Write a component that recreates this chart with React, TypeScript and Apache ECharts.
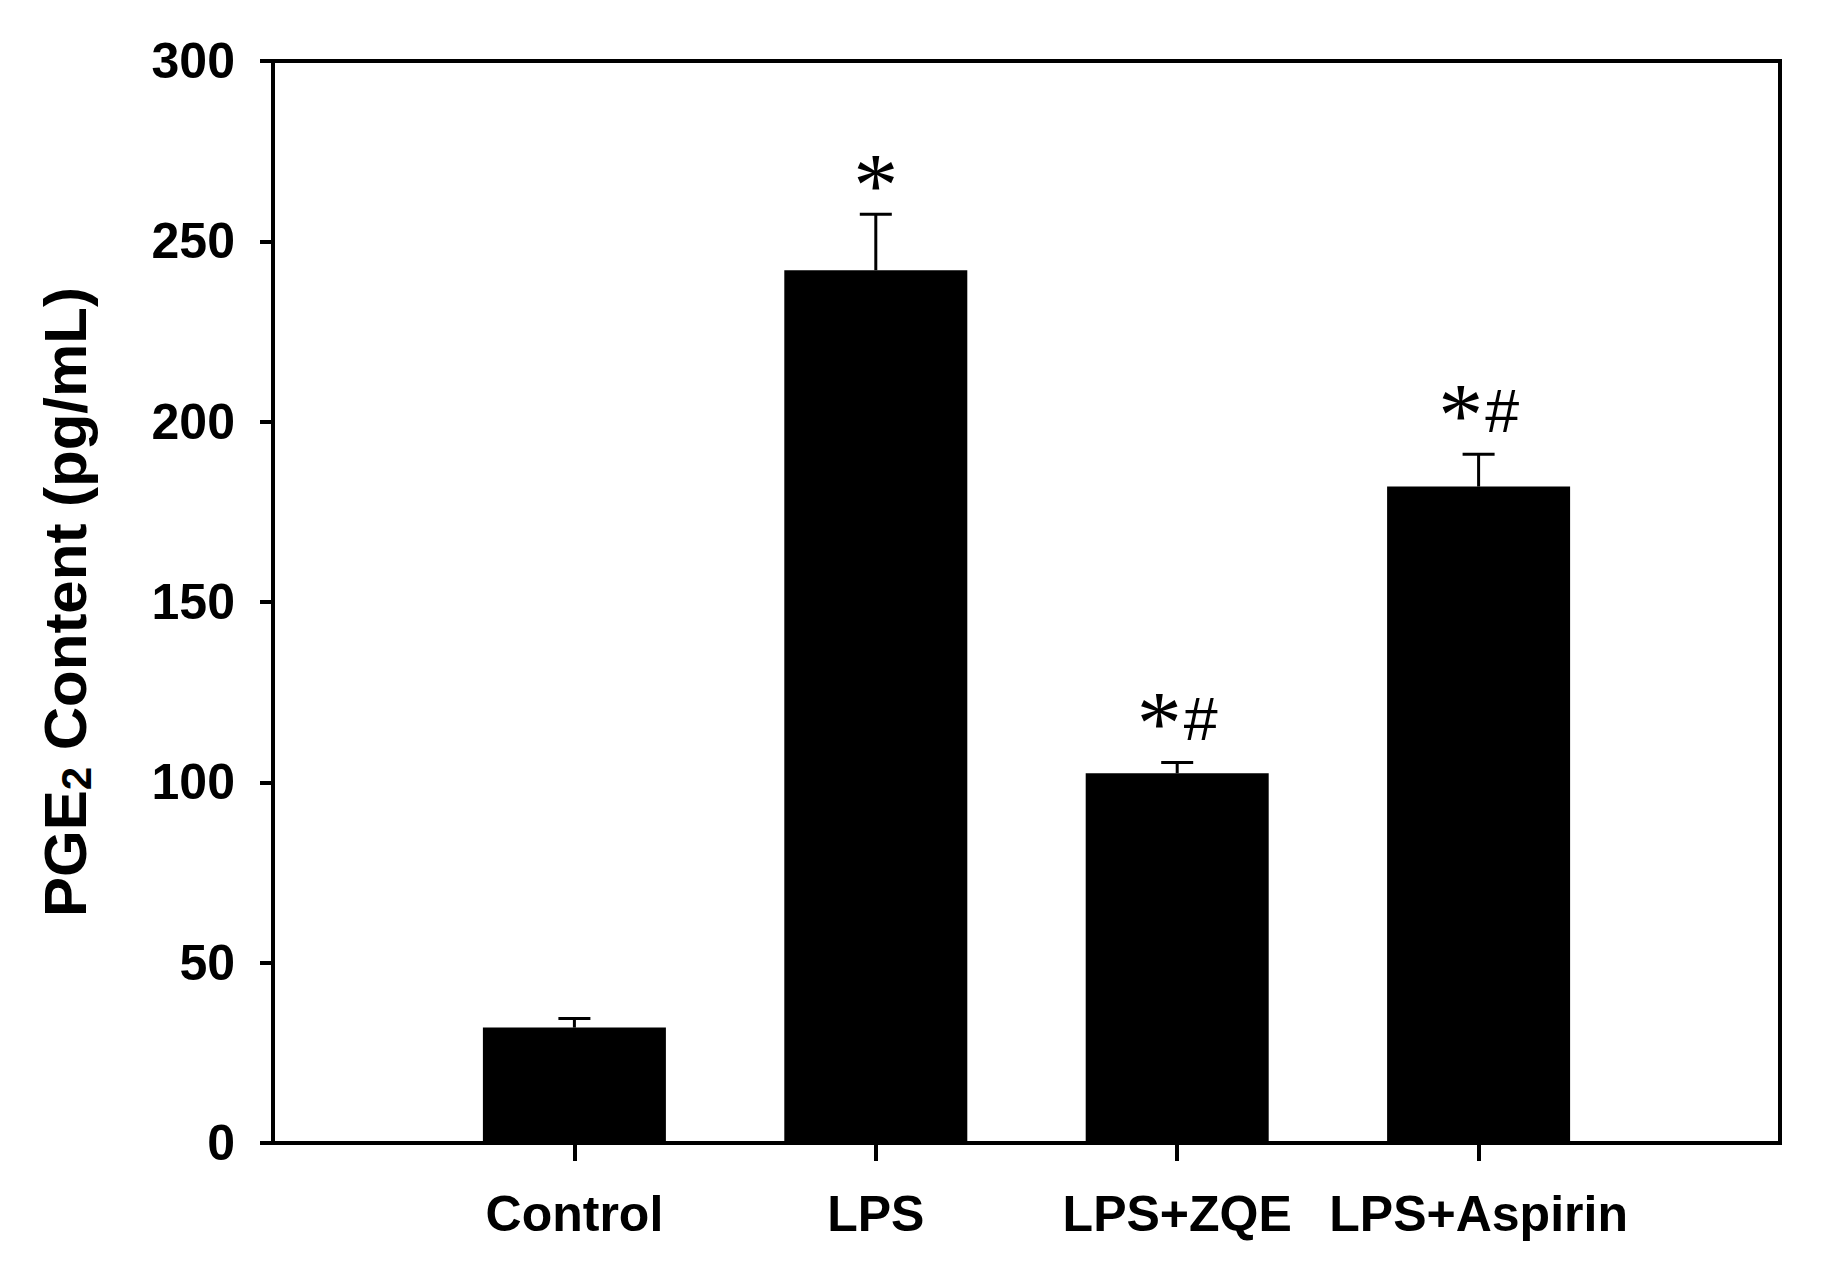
import React, { useEffect, useRef } from "react";
import * as echarts from "echarts";

const categories = ["Control", "LPS", "LPS+ZQE", "LPS+Aspirin"];
const means = [32, 242, 102.5, 182];
const errors = [2.5, 15.5, 3, 9];
const marks = ["", "*", "*#", "*#"];
const yMin = 0;
const yMax = 300;
const yStep = 50;

export default function App() {
  const ref = useRef<HTMLDivElement>(null);
  useEffect(() => {
    document.body.style.margin = "0";
    const chart = echarts.init(ref.current!, null, { renderer: "svg" });
    const slots = categories.map((_, i) => i + 1);
    const sans = "'Liberation Sans', Arial, sans-serif";
    const serif = "'Liberation Serif', 'Times New Roman', serif";
    chart.setOption({
      animation: false,
      backgroundColor: "#ffffff",
      grid: {
        left: 273,
        right: 57,
        top: 61,
        bottom: 123,
        show: true,
        borderColor: "#000",
        borderWidth: 4,
        backgroundColor: "transparent",
      },
      xAxis: {
        type: "value",
        min: 0,
        max: categories.length + 1,
        interval: 1,
        splitLine: { show: false },
        axisLine: { lineStyle: { color: "#000", width: 4 } },
        axisTick: {
          show: true,
          length: 18,
          lineStyle: { color: "#000", width: 4 },
          customValues: slots,
        },
        axisLabel: {
          customValues: slots,
          formatter: (v: number) => categories[Math.round(v) - 1] ?? "",
          color: "#000",
          fontFamily: sans,
          fontWeight: "bold",
          fontSize: 50,
          margin: 46,
        },
      },
      yAxis: {
        type: "value",
        min: yMin,
        max: yMax,
        interval: yStep,
        splitLine: { show: false },
        axisLine: { show: true, lineStyle: { color: "#000", width: 4 } },
        axisTick: { show: true, length: 13, lineStyle: { color: "#000", width: 4 } },
        axisLabel: {
          color: "#000",
          fontFamily: sans,
          fontWeight: "bold",
          fontSize: 50,
          margin: 38,
        },
        name: "{a|PGE}{s|2}{a| Content (pg/mL)}",
        nameLocation: "middle",
        nameGap: 176,
        nameTextStyle: {
          rich: {
            a: { fontFamily: sans, fontWeight: "bold", fontSize: 60, color: "#000" },
            s: {
              fontFamily: sans,
              fontWeight: "bold",
              fontSize: 42,
              color: "#000",
              padding: [22, 0, 0, 0],
            },
          },
        },
      },
      series: [
        {
          type: "bar",
          barWidth: 183,
          itemStyle: { color: "#000" },
          data: means.map((m, i) => [slots[i], m]),
          z: 2,
        },
        {
          type: "custom",
          z: 3,
          data: means.map((m, i) => [slots[i], m, errors[i]]),
          renderItem: (params: any, api: any) => {
            const x = api.value(0);
            const m = api.value(1);
            const e = api.value(2);
            const base = api.coord([x, m]);
            const top = api.coord([x, m + e]);
            const mark = marks[params.dataIndex];
            const children: any[] = [
              {
                type: "line",
                shape: { x1: base[0], y1: base[1], x2: top[0], y2: top[1] },
                style: { stroke: "#000", lineWidth: 3 },
              },
              {
                type: "line",
                shape: { x1: top[0] - 16, y1: top[1], x2: top[0] + 16, y2: top[1] },
                style: { stroke: "#000", lineWidth: 3 },
              },
            ];
            if (mark) {
              const hasHash = mark.indexOf("#") >= 0;
              const text = mark
                .split("")
                .map((c) => (c === "*" ? "{a|*}" : "{b|#}"))
                .join("");
              children.push({
                type: "text",
                x: top[0],
                y: top[1] - (hasHash ? 43 : 33),
                style: {
                  text,
                  align: "center",
                  verticalAlign: "middle",
                  fill: "#000",
                  rich: {
                    a: {
                      fontFamily: serif,
                      fontSize: 90,
                      color: "#000",
                      padding: [8, 0, 0, 0],
                    },
                    b: {
                      fontFamily: sans,
                      fontSize: 61,
                      color: "#000",
                      padding: [0, 0, 0, 2],
                    },
                  },
                },
              });
            }
            return { type: "group", children };
          },
        },
      ],
    });
    return () => chart.dispose();
  }, []);
  return <div ref={ref} style={{ width: 1837, height: 1266 }} />;
}
